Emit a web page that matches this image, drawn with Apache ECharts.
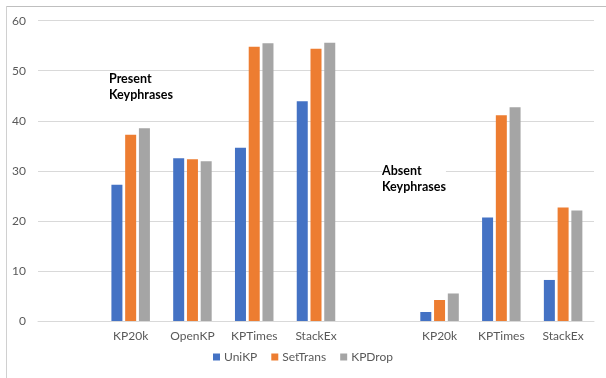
<!DOCTYPE html>
<html>
<head>
<meta charset="utf-8">
<script src="https://cdn.jsdelivr.net/npm/echarts@6/dist/echarts.min.js"></script>
<style>
  html, body { margin: 0; padding: 0; background: #fff; }
  #chart { width: 606px; height: 378px; }
</style>
</head>
<body>
<div id="chart"></div>
<script>
// Dataset groups: present keyphrases, a spacer, absent keyphrases
const categories = ['', 'KP20k', 'OpenKP', 'KPTimes', 'StackEx', '', 'KP20k', 'KPTimes', 'StackEx'];
const uniKP    = [null, 27.2, 32.5, 34.6, 43.9, null, 1.8, 20.7, 8.2];
const setTrans = [null, 37.2, 32.3, 54.8, 54.4, null, 4.2, 41.1, 22.7];
const kpDrop   = [null, 38.5, 31.9, 55.5, 55.6, null, 5.5, 42.7, 22.1];
const yTicks = { min: 0, max: 60, interval: 10 };

const FONT = 'Lato, "Open Sans", sans-serif';
const TXT = '#595959';
const GRID = '#D9D9D9';

const chart = echarts.init(document.getElementById('chart'), null, { renderer: 'canvas' });

function bar(name, data, color) {
  return {
    name: name,
    type: 'bar',
    data: data,
    barWidth: 11,
    barGap: '25%',
    itemStyle: { color: color },
    emphasis: { disabled: true }
  };
}

chart.setOption({
  animation: false,
  backgroundColor: '#ffffff',
  textStyle: { fontFamily: FONT },
  grid: { left: 38, right: 12, top: 20.7, bottom: 57, containLabel: false },
  xAxis: {
    type: 'category',
    data: categories,
    axisLine: { lineStyle: { color: GRID, width: 1 } },
    axisTick: { show: false },
    axisLabel: { color: TXT, fontSize: 12, fontFamily: FONT, margin: 9, interval: 0 }
  },
  yAxis: {
    type: 'value',
    min: yTicks.min,
    max: yTicks.max,
    interval: yTicks.interval,
    axisLine: { show: false },
    axisTick: { show: false },
    axisLabel: { color: TXT, fontSize: 12, fontFamily: FONT, margin: 12 },
    splitLine: { lineStyle: { color: GRID, width: 1 } }
  },
  legend: {
    bottom: 10,
    left: 'center',
    itemWidth: 7,
    itemHeight: 7,
    itemGap: 14,
    icon: 'rect',
    textStyle: { color: TXT, fontSize: 12, fontFamily: FONT, padding: [0, 0, 0, -1] },
    data: ['UniKP', 'SetTrans', 'KPDrop']
  },
  series: [
    bar('UniKP', uniKP, '#4472C4'),
    bar('SetTrans', setTrans, '#ED7D31'),
    bar('KPDrop', kpDrop, '#A5A5A5')
  ],
  graphic: [
    { type: 'line', shape: { x1: 6, y1: 6.5, x2: 606, y2: 6.5 }, style: { stroke: '#BFBFBF', lineWidth: 1 } },
    { type: 'line', shape: { x1: 6.5, y1: 6, x2: 6.5, y2: 378 }, style: { stroke: '#D0D0D0', lineWidth: 1 } },
    {
      type: 'text', left: 109, top: 71, z: 100,
      style: { text: 'Present\nKeyphrases', fill: '#000', font: 'bold 12.5px ' + FONT, lineHeight: 16, backgroundColor: '#fff' }
    },
    {
      type: 'text', left: 382, top: 163, z: 100,
      style: { text: 'Absent\nKeyphrases', fill: '#000', font: 'bold 12.5px ' + FONT, lineHeight: 16, backgroundColor: '#fff' }
    }
  ]
});
</script>
</body>
</html>
